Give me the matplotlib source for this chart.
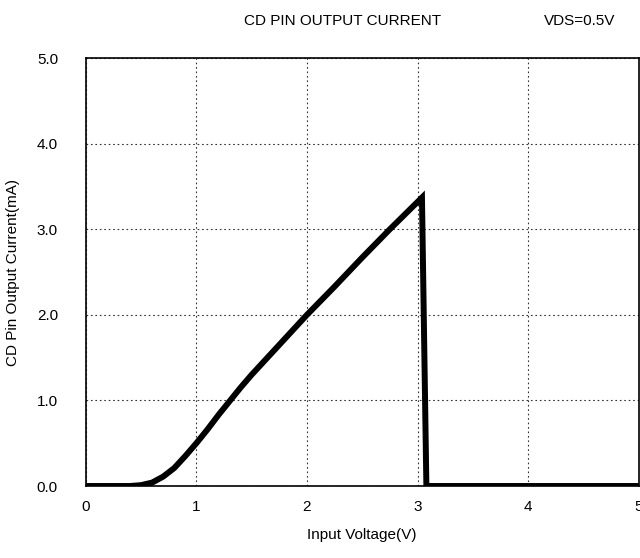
import matplotlib.pyplot as plt

plt.rcParams['font.family'] = ['Liberation Sans', 'DejaVu Sans']

# CD pin output current vs input voltage (VDS=0.5V)
input_voltage = [0.0, 0.4, 0.5, 0.6, 0.7, 0.8, 0.9, 1.0, 1.1, 1.2, 1.3, 1.4, 1.5,
                 1.75, 2.0, 2.25, 2.5, 2.75, 3.04, 3.08, 5.0]
output_current = [0.0, 0.0, 0.01, 0.04, 0.11, 0.21, 0.35, 0.5, 0.66, 0.83, 0.99, 1.15, 1.3,
                  1.65, 2.0, 2.33, 2.67, 3.0, 3.37, 0.0, 0.0]

x_ticks = [0, 1, 2, 3, 4, 5]
y_ticks = [0.0, 1.0, 2.0, 3.0, 4.0, 5.0]

fig = plt.figure(figsize=(6.4, 5.58), dpi=100)
ax = fig.add_axes([0.134, 0.129, 0.864, 0.767])

ax.plot(input_voltage, output_current, color='black', lw=4.3, solid_joinstyle='miter')

ax.set_xlim(0, 5)
ax.set_ylim(0, 5)
ax.set_xticks(x_ticks)
ax.set_yticks(y_ticks)
ax.set_yticklabels([f"{v:.1f}" for v in y_ticks])
ax.tick_params(length=0, labelsize=11)
ax.tick_params(axis='y', pad=20)
ax.tick_params(axis='x', pad=10)
ax.grid(True, color='#333333', linestyle=(0, (1.5, 2.5)), linewidth=0.8)

for s in ax.spines.values():
    s.set_linewidth(1.2)

ax.set_xlabel("Input Voltage(V)", fontsize=11, labelpad=10)
ax.set_ylabel("CD Pin Output Current(mA)", fontsize=11, labelpad=12)

fig.text(0.536, 0.962, "CD PIN OUTPUT CURRENT", ha='center', va='center', fontsize=11)
fig.text(0.906, 0.962, "VDS=0.5V", ha='center', va='center', fontsize=11)

fig.savefig("out.png", dpi=100)
